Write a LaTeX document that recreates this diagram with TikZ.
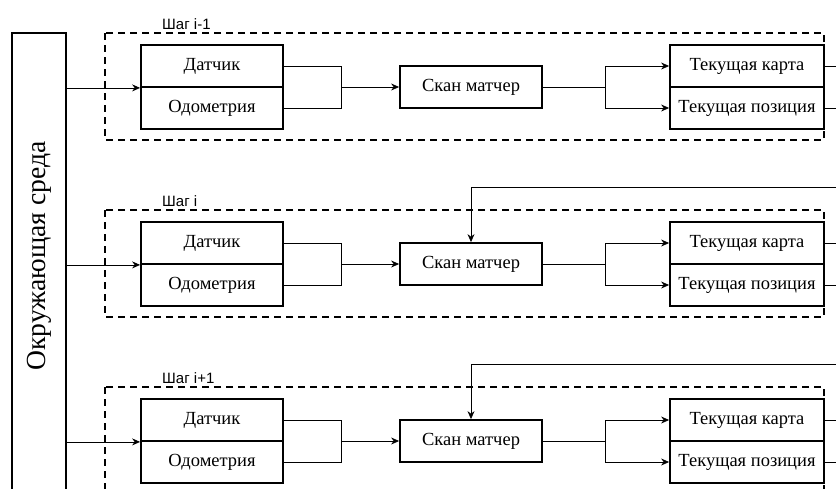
\documentclass[tikz,border=0pt]{standalone}
\usepackage{fontspec}
\setmainfont{Liberation Serif}
\newfontfamily\labelfont{Liberation Sans}
\usetikzlibrary{arrows.meta}

\begin{document}
\begin{tikzpicture}[x=1pt, y=-1pt,
  block/.style={draw, line width=1.8pt, minimum width=142pt, minimum height=42pt,
    inner sep=0pt, font=\fontsize{18.5}{21}\selectfont},
  outblock/.style={block, minimum width=154pt},
  envbox/.style={draw, line width=1.8pt, minimum width=54pt, minimum height=480pt,
    inner sep=0pt, font=\fontsize{27.6}{30}\selectfont},
  frame/.style={draw, dash pattern=on 7pt off 5pt, line width=1.9pt},
  steplabel/.style={anchor=base west, inner sep=0pt, font=\labelfont\fontsize{15}{17}\selectfont},
  wire/.style={line width=0.8pt},
  arrow/.style={wire, -{Stealth[length=8pt, width=7pt]}}]
  % 1. Canvas (cut at the picture's edges)
  \clip (0,0) rectangle (836,488);

  % 2. Environment on the left
  \node[envbox] (env) at (39,273) {\rotatebox{90}{\hspace*{34pt}Окружающая среда}};

  % 3. One row per step: frame, blocks and wires
  \foreach \r/\dy/\lbl in {1/0/{i-1}, 2/177/{i}, 3/354/{i+1}}{
    \draw[frame] (105,\dy+33) rectangle (824,\dy+140);
    \node[steplabel] (step\r) at (162,\dy+29) {Шаг \lbl};

    \node[block] (sens\r) at (212,\dy+66) {Датчик};
    \node[block] (odo\r) at (212,\dy+108) {Одометрия};
    \node[block] (scan\r) at (471,\dy+87) {Скан матчер};
    \node[outblock] (map\r) at (747,\dy+66) {Текущая карта};
    \node[outblock] (pose\r) at (747,\dy+108) {Текущая позиция};

    % junctions and free ends
    \coordinate (jin\r) at (341,\dy+87);
    \coordinate (jout\r) at (605,\dy+87);
    \coordinate (mapout\r) at (836,\dy+66);
    \coordinate (poseout\r) at (836,\dy+108);

    \draw[arrow] (env.east |- sens\r.south west) -- (sens\r.south west);
    \draw[wire] (sens\r.east) -| (jin\r);
    \draw[wire] (odo\r.east) -| (jin\r);
    \draw[arrow] (jin\r) -- (scan\r.west);
    \draw[wire] (scan\r.east) -- (jout\r);
    \draw[arrow] (jout\r) |- (map\r.west);
    \draw[arrow] (jout\r) |- (pose\r.west);
    \draw[wire] (map\r.east) -- (mapout\r);
    \draw[wire] (pose\r.east) -- (poseout\r);

    % 4. Feedback from the previous step
    \ifnum\r>1
      \coordinate (back\r) at (836,\dy+10);
      \draw[arrow] (back\r) -| (scan\r.north);
    \fi
  }
\end{tikzpicture}
\end{document}
